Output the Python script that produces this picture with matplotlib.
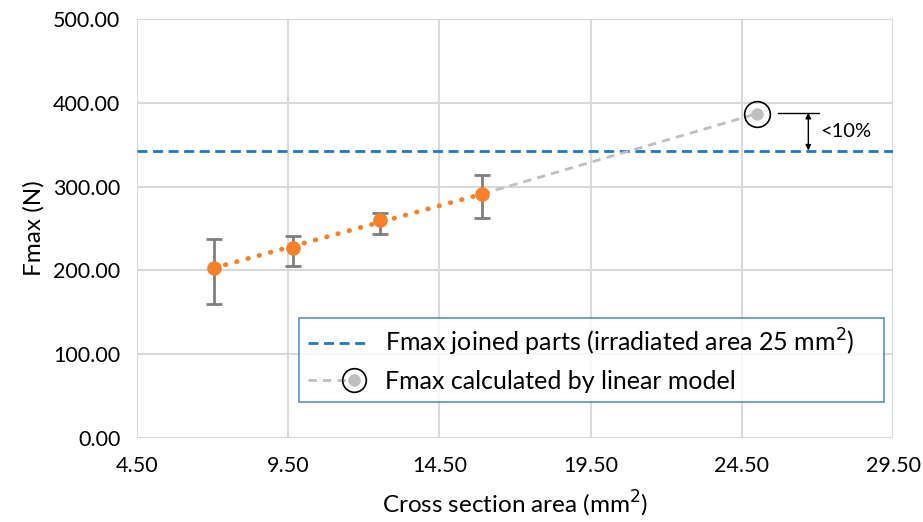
import matplotlib.pyplot as plt
from matplotlib.lines import Line2D
from matplotlib.legend_handler import HandlerBase

plt.rcParams['font.family'] = ['Lato', 'DejaVu Sans']

# measured data
area = [7.05, 9.65, 12.55, 15.9]
fmax = [203, 227, 260, 291]
err_low = [43, 22, 16, 29]
err_high = [35, 14, 8, 23]

# linear model extrapolation
model_x = [15.9, 25.0]
model_y = [291, 387]

joined_fmax = 342

x_ticks = [4.5, 9.5, 14.5, 19.5, 24.5, 29.5]
y_ticks = [0, 100, 200, 300, 400, 500]

orange = "#f5822a"
blue = "#1f77c8"
grey = "#bfbfbf"
blue_dash = (0, (3.6, 2))
grey_dash = (0, (3, 2.2))


class ModelHandler(HandlerBase):
    """dashed grey line with the ringed marker at its right end"""
    def create_artists(self, legend, orig, xdescent, ydescent, width,
                       height, fontsize, trans):
        y = height / 2 - ydescent
        xm = width * 0.8 - xdescent
        line = Line2D([-xdescent, xm], [y, y], color=grey,
                      linestyle=grey_dash, linewidth=2)
        dot = Line2D([xm], [y], marker="o", color=grey, markersize=8)
        ring = Line2D([xm], [y], marker="o", markerfacecolor="none",
                      markeredgecolor="black", markeredgewidth=1.2,
                      markersize=17)
        for a in (line, dot, ring):
            a.set_transform(trans)
        return [line, dot, ring]


fig = plt.figure(figsize=(9.23, 5.22), dpi=100)
ax = fig.add_axes([0.1484, 0.161, 0.8191, 0.8026])

ax.set_xlim(4.5, 29.5)
ax.set_ylim(0, 500)
ax.set_xticks(x_ticks)
ax.set_yticks(y_ticks)
ax.set_xticklabels(["%.2f" % t for t in x_ticks])
ax.set_yticklabels(["%.2f" % t for t in y_ticks])
ax.grid(True, color="#d9d9d9", linewidth=1.5)
ax.set_axisbelow(True)
for s in ax.spines.values():
    s.set_visible(False)
ax.tick_params(length=0, labelsize=15.5)
ax.tick_params(axis="y", pad=12)
ax.tick_params(axis="x", pad=13)

# horizontal reference
ax.axhline(joined_fmax, color=blue, linestyle=blue_dash, linewidth=2)

# model line and predicted point
ax.plot(model_x, model_y, color=grey, linestyle=grey_dash, linewidth=2)
ax.plot(model_x[1], model_y[1], "o", color=grey, markersize=8, zorder=5)
ax.plot(model_x[1], model_y[1], "o", markerfacecolor="none",
        markeredgecolor="black", markeredgewidth=1.2, markersize=18.5, zorder=5)

# measured points with trend and error bars
ax.plot([area[0], area[-1]], [fmax[0], fmax[-1]], color=orange,
        linestyle=(0, (0.1, 2.3)), linewidth=3.5, dash_capstyle="round")
ax.errorbar(area, fmax, yerr=[err_low, err_high], fmt="none",
            ecolor="#7f7f7f", elinewidth=2, capsize=5.5, capthick=2, zorder=3)
ax.plot(area, fmax, "o", color=orange, markersize=9.5, zorder=4)

# <10% annotation
ax.plot([25.7, 27.05], [388, 388], color="black", linewidth=1)
ax.annotate("", xy=(26.7, 343), xytext=(26.7, 388),
            arrowprops=dict(arrowstyle="<|-|>", color="black", lw=1,
                            mutation_scale=8, shrinkA=0, shrinkB=0))
ax.text(27.1, 366, "<10%", fontsize=14.5, va="center")

ax.set_xlabel("Cross section area (mm$^2$)", fontsize=17.5, labelpad=9)
ax.set_ylabel("Fmax (N)", fontsize=17.5, labelpad=6)

h1 = Line2D([], [], color=blue, linestyle=blue_dash, linewidth=2)
h2 = Line2D([], [])
leg = ax.legend([h1, h2],
                ["Fmax joined parts (irradiated area 25 mm$^2$)    ",
                 "Fmax calculated by linear model"],
                handler_map={h2: ModelHandler()},
                loc="lower right", bbox_to_anchor=(0.988, 0.086),
                borderaxespad=0, fontsize=18, frameon=True, fancybox=False,
                handlelength=2.3, handletextpad=0.8, borderpad=0.35,
                labelspacing=0.5)
leg.get_frame().set_edgecolor("#2e75b6")
leg.get_frame().set_linewidth(1.2)

fig.savefig("out.png", dpi=100)
